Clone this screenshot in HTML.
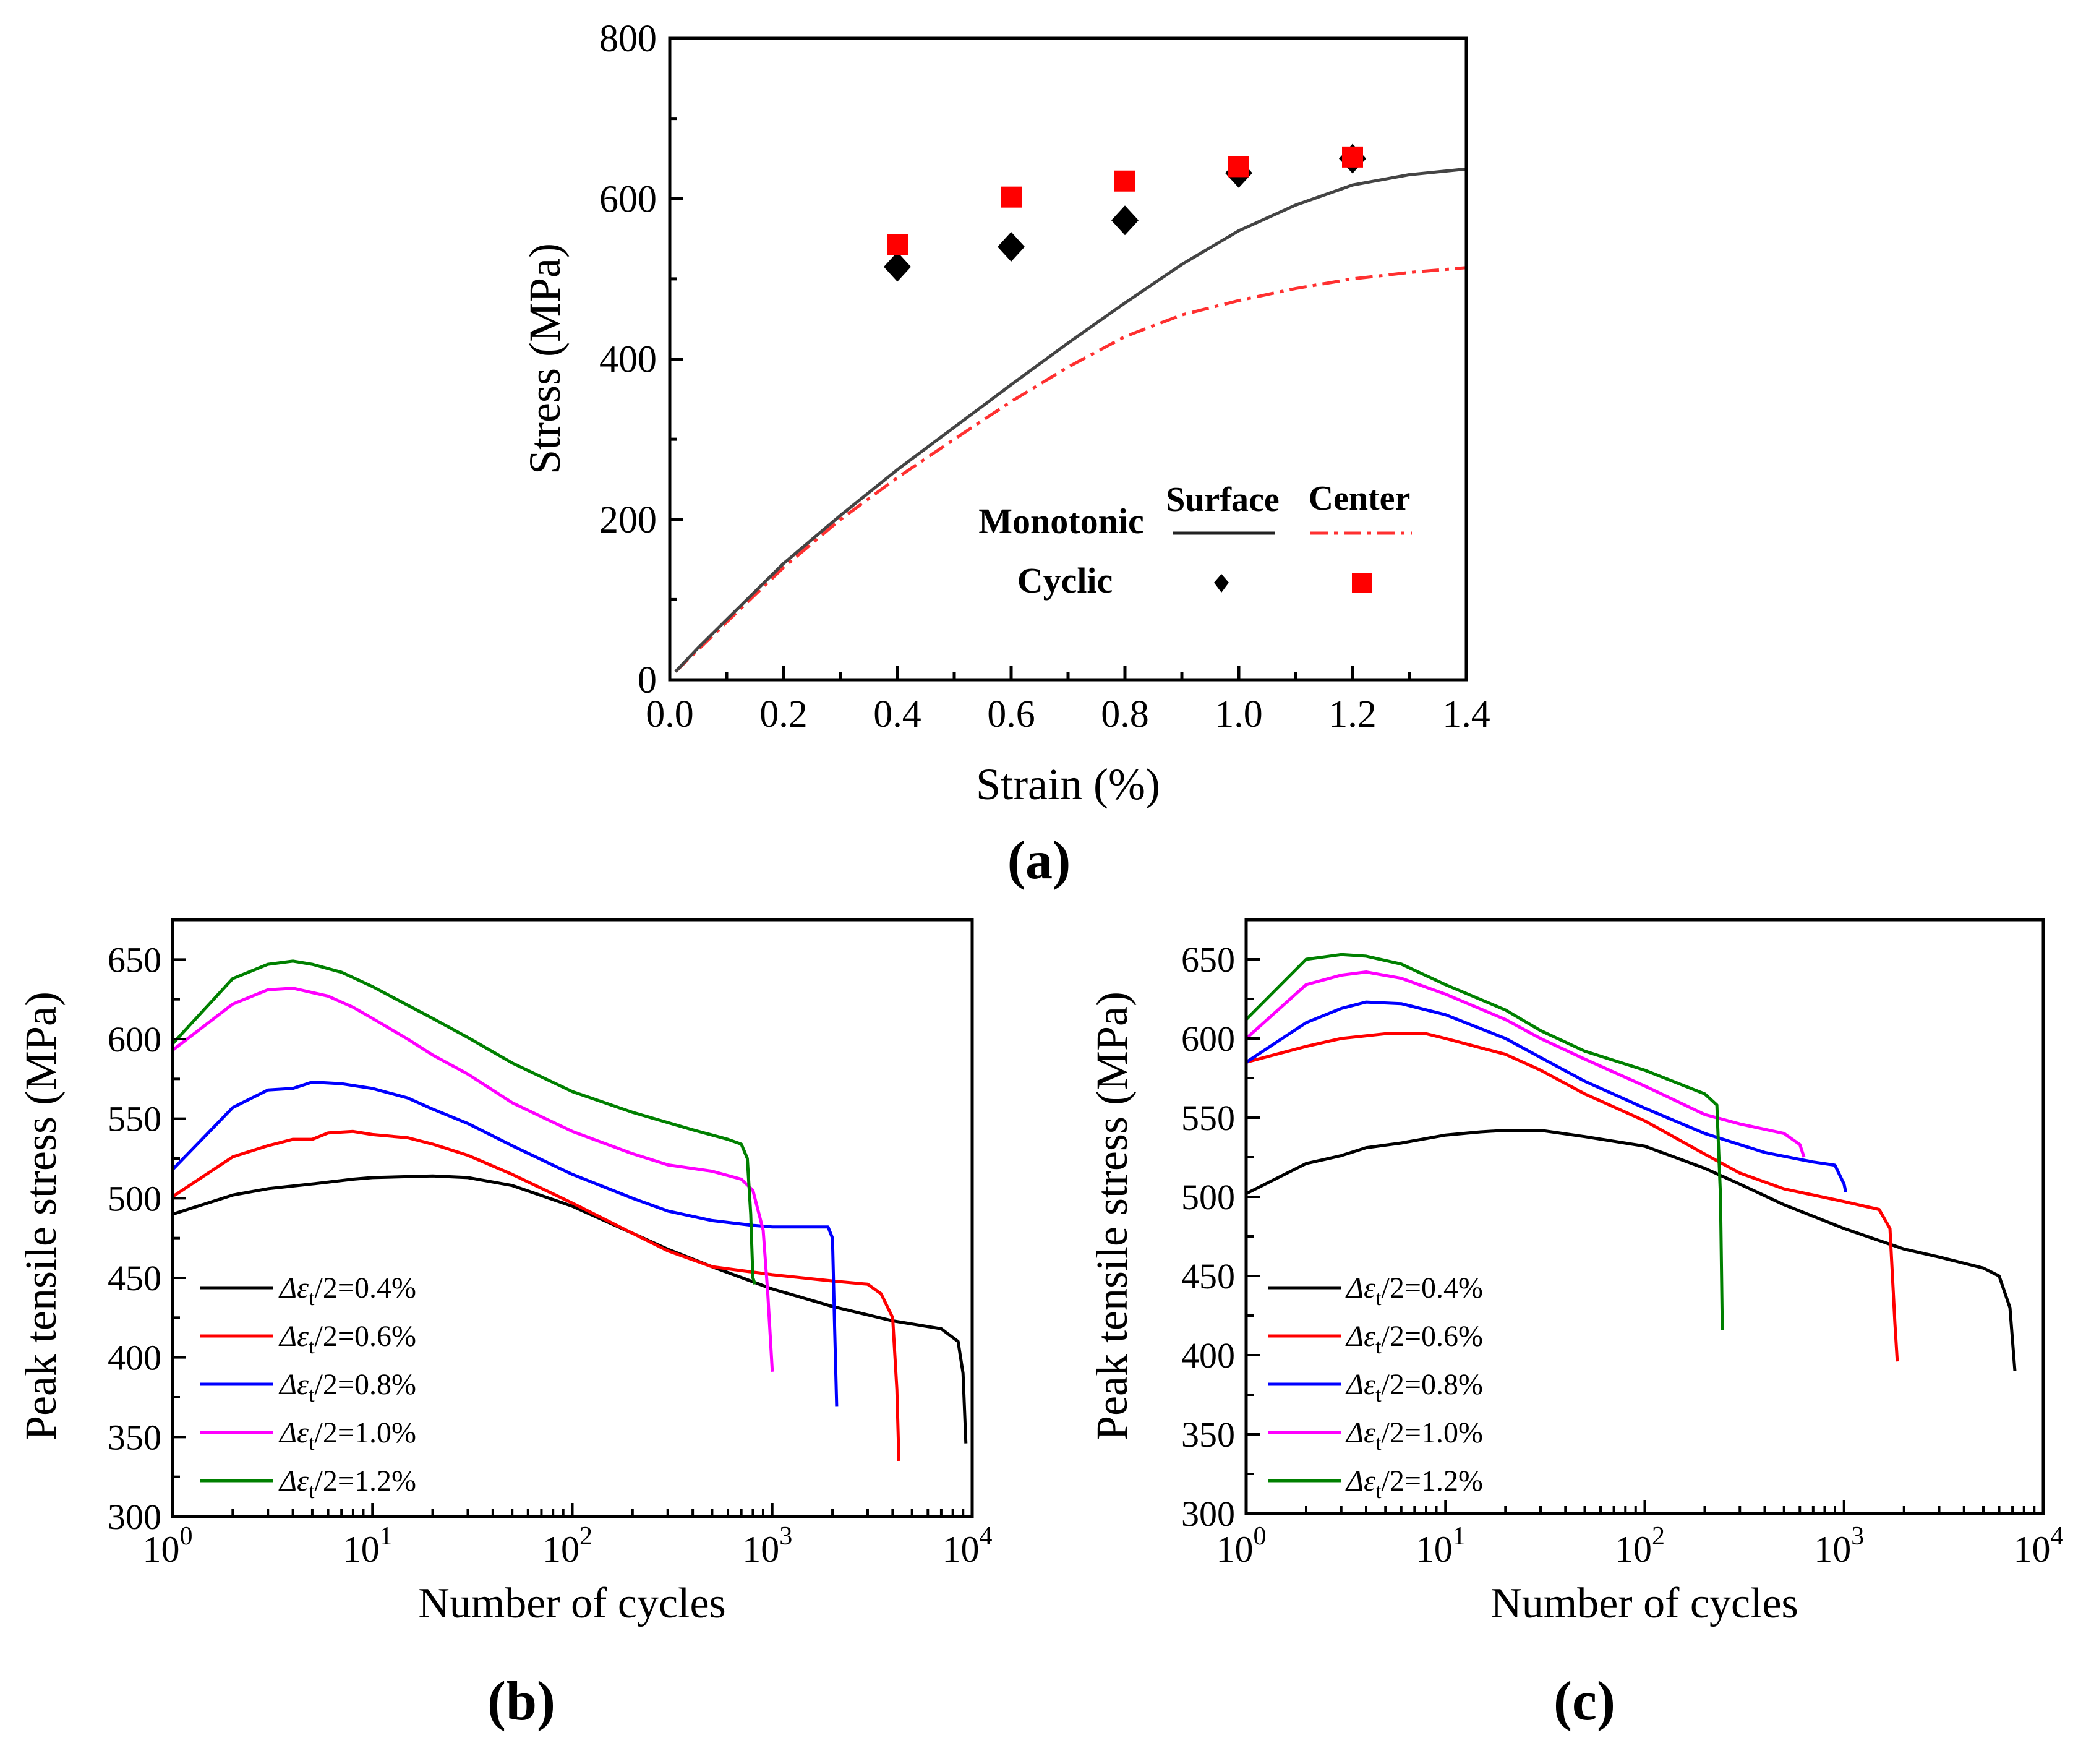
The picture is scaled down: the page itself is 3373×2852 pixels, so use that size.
<!DOCTYPE html>
<html><head><meta charset="utf-8">
<style>
html,body{margin:0;padding:0;background:#fff;}
svg{display:block;font-family:"Liberation Serif","Times New Roman",serif;}
</style></head>
<body>
<svg id="fig" width="3373" height="2852" viewBox="0 0 3373 2852" xmlns="http://www.w3.org/2000/svg">
<rect width="3373" height="2852" fill="#fff"/>
</svg>
<script>
// ---------- Panel (a) data ----------
const aSurfStrain = [0.01,0.05,0.1,0.15,0.2,0.3,0.4,0.5,0.6,0.7,0.8,0.9,1.0,1.1,1.2,1.3,1.4];
const aSurfStress = [10,40,75,110,145,205,262,315,368,420,470,518,560,592,617,630,637];
const aCentStrain = [0.01,0.1,0.2,0.3,0.4,0.5,0.6,0.7,0.8,0.9,1.0,1.1,1.2,1.3,1.4];
const aCentStress = [10,72,140,200,252,300,347,390,428,455,473,488,500,508,514];
const aCycStrain = [0.4,0.6,0.8,1.0,1.2];
const aCycSurf = [515,540,573,632,650];
const aCycCent = [543,602,622,640,652];
const aXTicks = ["0.0","0.2","0.4","0.6","0.8","1.0","1.2","1.4"];
const aYTicks = ["0","200","400","600","800"];

// ---------- Panel (b) data ----------
const bLabels = ["0.4%","0.6%","0.8%","1.0%","1.2%"];
const b04N = [1,2,3,5,8,10,20,30,50,100,200,300,500,1000,2000,4000,7000,8500,9000,9300];
const b04S = [490,502,506,509,512,513,514,513,508,495,478,468,457,443,432,423,418,410,390,346];
const b06N = [1,2,3,4,5,6,8,10,15,20,30,50,100,200,300,500,1000,2000,3000,3500,4000,4200,4300];
const b06S = [501,526,533,537,537,541,542,540,538,534,527,515,497,478,467,457,452,448,446,440,425,380,335];
const b08N = [1,2,3,4,5,7,10,15,20,30,50,100,200,300,500,800,1000,1500,1900,2000,2050,2100];
const b08S = [518,557,568,569,573,572,569,563,556,547,533,515,500,492,486,483,482,482,482,475,420,369];
const b10N = [1,2,3,4,6,8,10,15,20,30,50,100,200,300,500,700,800,900,950,1000];
const b10S = [593,622,631,632,627,620,613,600,590,578,560,542,528,521,517,512,505,480,440,391];
const b12N = [1,2,3,4,5,7,10,20,30,50,100,200,400,600,700,750,780,800,820];
const b12S = [597,638,647,649,647,642,633,613,601,585,567,554,543,537,534,525,490,450,446];

// ---------- Panel (c) data ----------
const c04N = [1,2,3,4,6,10,15,20,30,50,100,200,300,500,1000,2000,3000,5000,6000,6800,7200];
const c04S = [502,521,526,531,534,539,541,542,542,538,532,518,508,495,480,467,462,455,450,430,390];
const c06N = [1,2,3,5,8,10,20,30,50,100,200,300,500,1000,1500,1700,1800,1850];
const c06S = [585,595,600,603,603,600,590,580,565,548,527,515,505,497,492,480,420,396];
const c08N = [1,2,3,4,6,10,20,30,50,100,200,400,700,900,1000,1020];
const c08S = [585,610,619,623,622,615,600,588,573,556,540,528,522,520,508,503];
const c10N = [1,2,3,4,6,10,20,30,50,100,200,300,500,600,630];
const c10S = [600,634,640,642,638,628,612,600,587,570,552,546,540,533,525];
const c12N = [1,2,3,4,6,10,20,30,50,100,200,230,240,245];
const c12S = [612,650,653,652,647,634,618,605,592,580,565,558,500,416];
const logTicks = ["0","1","2","3","4"];
const stressTicks = ["300","350","400","450","500","550","600","650"];

const NS="http://www.w3.org/2000/svg";
const svg=document.getElementById('fig');
function mk(tag,attrs,parent){const e=document.createElementNS(NS,tag);for(const k in attrs)e.setAttribute(k,attrs[k]);(parent||svg).appendChild(e);return e;}
function txt(s,x,y,size,opts,parent){opts=opts||{};const t=mk('text',{x:x,y:y,'font-size':size,'text-anchor':opts.anchor||'middle','font-weight':opts.bold?'bold':'normal',fill:'#000'},parent);if(opts.rot)t.setAttribute('transform','rotate(-90 '+x+' '+y+')');t.textContent=s;return t;}

// ---------- Panel A ----------
const A={x0:1083,x1:2371,y0:1099,y1:62};
const ax=v=>A.x0+(v/1.4)*(A.x1-A.x0);
const ay=v=>A.y0-(v/800)*(A.y0-A.y1);
const gA=mk('g',{});


function pathFrom(xs,ys,fx,fy){return xs.map((v,i)=>(i?'L':'M')+fx(v).toFixed(1)+' '+fy(ys[i]).toFixed(1)).join(' ');}
let p=mk('path',{d:pathFrom(aCentStrain,aCentStress,ax,ay),fill:'none',stroke:'#ff3030','stroke-width':5,'stroke-dasharray':'28 10 6 10'},gA);

p=mk('path',{d:pathFrom(aSurfStrain,aSurfStress,ax,ay),fill:'none',stroke:'#444','stroke-width':5},gA);

aCycStrain.forEach((s,i)=>{
  const cx=ax(s),cy=ay(aCycSurf[i]);
  const d=mk('polygon',{points:`${cx},${cy-24} ${cx+22},${cy} ${cx},${cy+24} ${cx-22},${cy}`,fill:'#000'},gA);
  
});
aCycStrain.forEach((s,i)=>{
  const cx=ax(s),cy=ay(aCycCent[i]);
  const r=mk('rect',{x:cx-17,y:cy-17,width:34,height:34,fill:'#ff0000'},gA);
  
});
mk('rect',{x:A.x0,y:A.y1,width:A.x1-A.x0,height:A.y0-A.y1,fill:'none',stroke:'#000','stroke-width':5},gA);
for(let i=0;i<=14;i++){const x=ax(i*0.1);const L=i%2?12:22;mk('line',{x1:x,y1:A.y0,x2:x,y2:A.y0-L,stroke:'#000','stroke-width':5},gA);}
for(let i=0;i<=8;i++){const y=ay(i*100);const L=i%2?12:22;mk('line',{x1:A.x0,y1:y,x2:A.x0+L,y2:y,stroke:'#000','stroke-width':5},gA);}
aXTicks.forEach((s,i)=>{const t=txt(s,ax(i*0.2),1175,62,{},gA);});
aYTicks.forEach((s,i)=>{const t=txt(s,1062,ay(i*200)+21,62,{anchor:'end'},gA);});
let t=txt('Strain (%)',1727,1292,72,{},gA);
t=txt('Stress (MPa)',905,580,72,{rot:true},gA);
t=txt('(a)',1680,1420,88,{bold:true},gA);
// legend a
const lg=mk('g',{},gA);


txt('Monotonic',1716,862,58,{bold:true},lg);
txt('Surface',1977,826,56,{bold:true},lg);
txt('Center',2198,824,56,{bold:true},lg);
mk('line',{x1:1897,y1:862,x2:2061,y2:862,stroke:'#222','stroke-width':5},lg);
mk('line',{x1:2119,y1:862,x2:2283,y2:862,stroke:'#ff3030','stroke-width':5,'stroke-dasharray':'28 10 6 10'},lg);
txt('Cyclic',1722,958,58,{bold:true},lg);
mk('polygon',{points:'1975,928 1987,942 1975,958 1963,942',fill:'#000'},lg);
mk('rect',{x:2186,y:926,width:32,height:32,fill:'#ff0000'},lg);

// ---------- Log panels ----------
const colors=['#000000','#ff0000','#0000ff','#ff00ff','#008000'];
function logPanel(name,B,series,legX,legTextX,titleX,yTitleX,labelX,label){
  const g=mk('g',{});
  
  
  const fx=n=>B.x0+Math.log10(n)/4*(B.x1-B.x0);
  const fy=v=>B.y0-(v-300)/375*(B.y0-B.y1);
  series.forEach((s,i)=>{
    const pe=mk('path',{d:pathFrom(s[0],s[1],fx,fy),fill:'none',stroke:colors[i],'stroke-width':5,'stroke-linejoin':'round'},g);
    
    
  });
  mk('rect',{x:B.x0,y:B.y1,width:B.x1-B.x0,height:B.y0-B.y1,fill:'none',stroke:'#000','stroke-width':5},g);
  for(let d=0;d<4;d++){for(let m=1;m<=9;m++){const x=fx(Math.pow(10,d)*m);const L=m===1?22:12;mk('line',{x1:x,y1:B.y0,x2:x,y2:B.y0-L,stroke:'#000','stroke-width':4},g);}}
  mk('line',{x1:fx(10000),y1:B.y0,x2:fx(10000),y2:B.y0-22,stroke:'#000','stroke-width':4},g);
  for(let v=300;v<=675;v+=25){const y=fy(v);const L=(v%50===0)?22:12;mk('line',{x1:B.x0,y1:y,x2:B.x0+L,y2:y,stroke:'#000','stroke-width':4},g);}
  logTicks.forEach((e,i)=>{
    const tt=mk('text',{x:fx(Math.pow(10,i))-8,y:2525,'font-size':60,'text-anchor':'middle',fill:'#000'},g);
    
    tt.textContent='10';
    const sp=mk('tspan',{dy:-28,'font-size':42},tt);sp.textContent=e;
  });
  stressTicks.forEach((s,i)=>{const tt=txt(s,B.x0-18,fy(300+i*50)+20,58,{anchor:'end'},g);});
  let tt=txt('Number of cycles',titleX,2615,70,{},g);
  tt=txt('Peak tensile stress (MPa)',yTitleX,1966,72,{rot:true},g);
  tt=txt(label,labelX,2780,90,{bold:true},g);
  const rows=[2082,2160,2238,2316,2394];
  bLabels.forEach((lab,i)=>{
    const le=mk('g',{},g);
    
    
    mk('line',{x1:legX,y1:rows[i],x2:legX+118,y2:rows[i],stroke:colors[i],'stroke-width':5},le);
    const tx=mk('text',{x:legTextX,y:rows[i]+16,'font-size':48,fill:'#000'},le);
    const s1=mk('tspan',{'font-style':'italic'},tx);s1.textContent='Δε';
    const s2=mk('tspan',{dy:12,'font-size':34},tx);s2.textContent='t';
    const s3=mk('tspan',{dy:-12},tx);s3.textContent='/2='+lab;
  });
}
logPanel('panel-b',{x0:279,x1:1572,y0:2452,y1:1487},[[b04N,b04S],[b06N,b06S],[b08N,b08S],[b10N,b10S],[b12N,b12S]],323,452,925,90,843,'(b)');
logPanel('panel-c',{x0:2015,x1:3304,y0:2447,y1:1487},[[c04N,c04S],[c06N,c06S],[c08N,c08S],[c10N,c10S],[c12N,c12S]],2050,2177,2659,1822,2562,'(c)');
</script>
</body></html>
